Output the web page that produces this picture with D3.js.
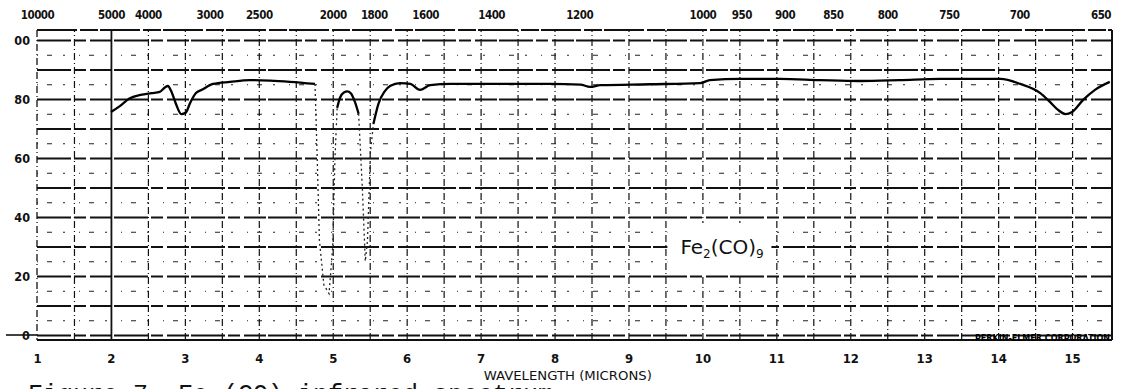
<!DOCTYPE html>
<html>
<head>
<meta charset="utf-8">
<script src="https://cdn.jsdelivr.net/npm/d3@7"></script>
<style>
  body { margin: 0; background: #fff; }
  svg { display: block; }
  .tick text { font-family: "DejaVu Sans Condensed", "DejaVu Sans", sans-serif; font-weight: bold; fill: #111; }
  .domain { display: none; }
</style>
</head>
<body>
<svg id="chart" width="1128" height="389"></svg>
<script>
// wavelength in microns, transmittance in percent
const wavelength = [
  2.00, 2.12, 2.25, 2.40, 2.55, 2.66, 2.73, 2.77, 2.82, 2.88, 2.95, 3.01, 3.07, 3.15, 3.23, 3.38,
  3.61, 3.88, 4.15, 4.42, 4.76,
  4.79, 4.82, 4.88, 4.95, 5.00, 5.03,
  5.06, 5.10, 5.15, 5.20, 5.25, 5.30, 5.35,
  5.40, 5.44, 5.47, 5.51,
  5.55, 5.62, 5.70, 5.78, 5.91, 6.05, 6.18, 6.32, 6.59, 7.26, 7.94, 8.35, 8.48, 8.62,
  9.29, 9.97, 10.10, 10.51, 11.05, 11.59, 12.13, 12.67, 13.21, 14.03, 14.30, 14.57,
  14.70, 14.81, 14.91, 15.00, 15.15, 15.31, 15.51
];
const transmittance = [
  75.6, 77.6, 80.2, 81.4, 82.0, 82.4, 83.9, 84.4, 82.4, 78.3, 74.9, 75.3, 78.6, 82.0, 83.1, 85.1,
  85.8, 86.4, 86.2, 85.8, 85.1,
  60, 32, 17, 14, 30, 60,
  77, 80.5, 82.2, 82.6, 81.8, 79.0, 75.0,
  50, 25, 32, 62,
  71.5, 78.5, 82.5, 84.5, 85.4, 85.1, 83.1, 84.7, 85.1, 85.1, 85.1, 84.9, 84.1, 84.7,
  85.0, 85.4, 86.4, 86.8, 86.8, 86.4, 86.1, 86.4, 86.8, 86.8, 85.1, 82.0,
  79.0, 76.3, 74.9, 75.6, 79.7, 83.1, 85.8
];
// stretches where the pen moved fast and left only a faint trace
const faintRanges = [[4.76, 5.06], [5.35, 5.55]];

const micronTicks = d3.range(1, 16);
const wavenumbers = [10000, 5000, 4000, 3000, 2500, 2000, 1800, 1600, 1400, 1200, 1000, 950, 900, 850, 800, 750, 700, 650];
const yTicks = [100, 80, 60, 40, 20, 0];
const yTickLabels = ['00', '80', '60', '40', '20', '0'];

const svg = d3.select('#chart');
const plotL = 37, plotR = 1112, plotT = 30, plotB = 340;

const x = d3.scaleLinear().domain([1, 15.54]).range([plotL, plotR]);
const y = d3.scaleLinear().domain([0, 100]).range([335, 40]);

const grid = svg.append('g').attr('class', 'grid');

// minor horizontal lines (every 5%, between the labelled ones)
grid.append('g')
  .attr('transform', `translate(${plotL},0)`)
  .call(d3.axisLeft(y).tickValues(d3.range(5, 100, 10)).tickSize(-(plotR - plotL)).tickFormat(''))
  .selectAll('line')
  .attr('stroke', '#222')
  .attr('stroke-width', 1)
  .attr('stroke-dasharray', '1,9,5,11,2,14');

// vertical lines every half micron
grid.append('g')
  .attr('transform', `translate(0,${plotB})`)
  .call(d3.axisBottom(x).tickValues(d3.range(1.5, 15.5, 0.5)).tickSize(-(plotB - plotT)).tickFormat(''))
  .selectAll('line')
  .attr('stroke', '#111')
  .attr('stroke-width', d => d === 2 ? 1.8 : 1.2)
  .attr('stroke-dasharray', d => d === 2 ? null : '7,3,1,3');

// major horizontal lines every 10%
grid.append('g')
  .attr('transform', `translate(${plotL},0)`)
  .call(d3.axisLeft(y).tickValues(d3.range(0, 101, 10)).tickSize(-(plotR - plotL)).tickFormat(''))
  .selectAll('line')
  .attr('stroke', '#111')
  .attr('stroke-width', 2)
  .attr('stroke-dasharray', '34,3,12,4,22,2');

// frame
grid.append('line').attr('x1', plotL).attr('x2', plotR).attr('y1', plotT).attr('y2', plotT)
  .attr('stroke', '#111').attr('stroke-width', 2).attr('stroke-dasharray', '40,3,18,2');
grid.append('line').attr('x1', plotL).attr('x2', plotR).attr('y1', plotB).attr('y2', plotB)
  .attr('stroke', '#111').attr('stroke-width', 2);
grid.append('line').attr('x1', plotL).attr('x2', plotL).attr('y1', plotT).attr('y2', plotB)
  .attr('stroke', '#111').attr('stroke-width', 1.3).attr('stroke-dasharray', '7,3,1,3');
grid.append('line').attr('x1', plotR).attr('x2', plotR).attr('y1', plotT).attr('y2', plotB)
  .attr('stroke', '#111').attr('stroke-width', 2);
// zero line runs out past the left edge
grid.append('line').attr('x1', 6).attr('x2', plotL).attr('y1', y(0)).attr('y2', y(0))
  .attr('stroke', '#111').attr('stroke-width', 1.6);

// white patch behind the compound label
svg.append('rect')
  .attr('x', x(10.0) - 35).attr('y', y(40) + 6)
  .attr('width', 104).attr('height', 52)
  .attr('fill', '#fff');

// axes
const xAxisG = svg.append('g')
  .attr('transform', `translate(0,${plotB})`)
  .call(d3.axisBottom(x).tickValues(micronTicks).tickSize(0).tickPadding(14));
xAxisG.selectAll('text').attr('font-size', 13);

const topAxisG = svg.append('g')
  .attr('transform', `translate(0,${plotT})`)
  .call(d3.axisTop(x)
    .tickValues(wavenumbers.map(w => 1e4 / w))
    .tickFormat((d, i) => wavenumbers[i])
    .tickSize(0).tickPadding(11));
topAxisG.selectAll('text').attr('font-size', 11.5).attr('letter-spacing', -0.5);

const yAxisG = svg.append('g')
  .attr('transform', `translate(${plotL},0)`)
  .call(d3.axisLeft(y).tickValues(yTicks).tickFormat((d, i) => yTickLabels[i]).tickSize(0).tickPadding(7));
yAxisG.selectAll('text').attr('font-size', 12.5);
yAxisG.selectAll('.tick').filter(d => d === 0).select('text')
  .attr('x', -11).attr('text-anchor', 'middle');

svg.append('text')
  .attr('x', x(8.18)).attr('y', 380)
  .attr('text-anchor', 'middle')
  .attr('font-family', '"DejaVu Sans Condensed", "DejaVu Sans", sans-serif')
  .attr('font-size', 12)
  .attr('textLength', 168)
  .attr('lengthAdjust', 'spacingAndGlyphs')
  .attr('fill', '#111')
  .text('WAVELENGTH (MICRONS)');

// spectrum trace
const pts = wavelength.map((w, i) => ({ w, t: transmittance[i] }));
const inside = w => faintRanges.some(r => w > r[0] && w < r[1]);
const within = w => faintRanges.some(r => w >= r[0] && w <= r[1]);

const lineGenerator = d3.line()
  .x(d => x(d.w))
  .y(d => y(d.t))
  .curve(d3.curveMonotoneX);

svg.append('path')
  .attr('class', 'line-path')
  .attr('d', lineGenerator.defined(d => !inside(d.w))(pts))
  .attr('fill', 'none')
  .attr('stroke', '#000')
  .attr('stroke-width', 2.3);

svg.append('path')
  .attr('class', 'line-path faint')
  .attr('d', d3.line().x(d => x(d.w)).y(d => y(d.t)).curve(d3.curveLinear).defined(d => within(d.w))(pts))
  .attr('fill', 'none')
  .attr('stroke', '#222')
  .attr('stroke-width', 1.3)
  .attr('stroke-dasharray', '2,3');

// compound label
const lbl = svg.append('text')
  .attr('x', x(10.0) - 22).attr('y', y(27.5))
  .attr('font-family', '"DejaVu Sans", sans-serif')
  .attr('font-size', 20)
  .attr('fill', '#111');
lbl.append('tspan').text('Fe');
lbl.append('tspan').attr('font-size', 12).attr('dy', 4).text('2');
lbl.append('tspan').attr('dy', -4).text('(CO)');
lbl.append('tspan').attr('font-size', 12).attr('dy', 4).text('9');

// maker's stamp along the bottom-right edge
svg.append('text')
  .attr('x', 975).attr('y', 341)
  .attr('font-family', '"DejaVu Sans Condensed", sans-serif')
  .attr('font-weight', 'bold')
  .attr('font-size', 8)
  .attr('textLength', 135)
  .attr('lengthAdjust', 'spacingAndGlyphs')
  .attr('fill', '#000')
  .text('PERKIN-ELMER CORPORATION');

// caption, cut off by the bottom of the scan as in the original
svg.append('text')
  .attr('x', 28).attr('y', 402)
  .attr('font-family', '"Liberation Mono", monospace')
  .attr('font-size', 25)
  .attr('fill', '#111')
  .text('Figure 7. Fe (CO) infrared spectrum');
</script>
</body>
</html>
